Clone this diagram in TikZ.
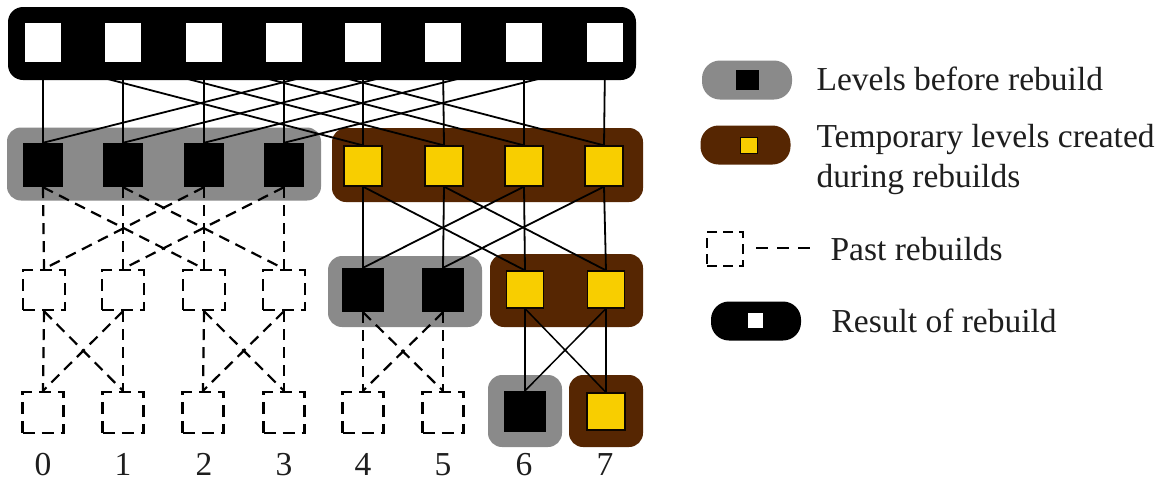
\documentclass[tikz,border=0pt]{standalone}
\usepackage{fontspec}
\setmainfont{Liberation Serif}
\definecolor{grpgray}{RGB}{138,138,138}
\definecolor{grpbrown}{RGB}{86,38,2}
\definecolor{lvlyellow}{RGB}{248,206,0}
\definecolor{txt}{RGB}{30,30,30}
\pgfdeclarelayer{groups}
\pgfdeclarelayer{links}
\pgfsetlayers{groups,links,main}
\tikzset{
  grp/.style={rounded corners=14pt, draw=none, inner sep=0pt},
  pill/.style={rounded corners=18pt, draw=none, inner sep=0pt, minimum width=90pt, minimum height=39pt},
  resbox/.style={fill=white, inner sep=0pt, minimum width=36pt, minimum height=39pt},
  oldlvl/.style={fill=black, inner sep=0pt, minimum width=41pt, minimum height=44pt},
  tmplvl/.style={fill=lvlyellow, draw=black!85!grpbrown, line width=1.2pt, inner sep=0pt, minimum width=38pt, minimum height=40pt},
  past/.style={draw=black, line width=2.4pt, dash pattern=on 12pt off 7pt, inner sep=0pt, minimum width=41pt, minimum height=40pt},
  link/.style={line width=1.8pt},
  pastlink/.style={line width=2.2pt, dash pattern=on 11pt off 7pt},
  label/.style={anchor=base, text=txt},
  keytext/.style={anchor=base west, text=txt},
}
\begin{document}
\begin{tikzpicture}[x=1pt, y=-1pt, font=\fontsize{33.5}{40}\selectfont]
\useasboundingbox (0,0) rectangle (1162,485);

% ---- level squares ----
\foreach \i/\x in {0/43,1/123,2/204,3/284,4/363,5/443,6/524,7/605} {
  \node[resbox] (t\i) at (\x,42.5) {};
}
% first level: four old ones, four temporary ones
\foreach \i/\x in {0/43,1/123,2/204,3/284} {
  \node[oldlvl, minimum width=40pt] (a\i) at (\x,165) {};
}
\foreach \i/\x in {4/363,5/444,6/524,7/604} {
  \node[tmplvl] (a\i) at (\x,166) {};
}
% second level
\foreach \i/\x in {0/44,1/123,2/204,3/284} {
  \node[past, minimum width=42pt] (b\i) at (\x,290) {};
}
\foreach \i/\x in {4/363,5/443} {
  \node[oldlvl, minimum width=42pt] (b\i) at (\x,290) {};
}
\foreach \i/\x in {6/525,7/606} {
  \node[tmplvl, minimum width=37pt, minimum height=37pt] (b\i) at (\x,289.5) {};
}
% third level
\foreach \i/\x in {0/43,1/123,2/203,3/284,4/363,5/443} {
  \node[past, minimum height=41pt] (c\i) at (\x,412.5) {};
}
\node[oldlvl, minimum width=42pt, minimum height=41pt] (c6) at (525,411.5) {};
\node[tmplvl, minimum height=37pt] (c7) at (606,411.5) {};

% ---- column numbers ----
\foreach \i/\x in {0/43,1/123,2/204,3/284,4/363,5/443,6/524,7/605} {
  \node[label] (n\i) at (\x,475) {\i};
}

% ---- group backgrounds ----
\begin{pgfonlayer}{groups}
  \fill[white] (0,0) rectangle (1162,485);
  \node[grp, fill=black, rounded corners=15pt, minimum width=628pt, minimum height=73pt] (gres) at (322,43.5) {};
  \node[grp, fill=grpgray, minimum width=314pt, minimum height=73pt] (g1old) at (164,164) {};
  \node[grp, fill=grpbrown, minimum width=311pt, minimum height=74pt] (g1tmp) at (487.5,165) {};
  \node[grp, fill=grpgray, minimum width=154pt, minimum height=71pt] (g2old) at (405,291.5) {};
  \node[grp, fill=grpbrown, minimum width=153pt, minimum height=73pt] (g2tmp) at (566.5,290.5) {};
  \node[grp, fill=grpgray, minimum width=74pt, minimum height=72pt] (g3old) at (525,411) {};
  \node[grp, fill=grpbrown, minimum width=74pt, minimum height=72pt] (g3tmp) at (606,411) {};
\end{pgfonlayer}

% ---- butterfly connections ----
\begin{pgfonlayer}{links}
  \foreach \i/\j in {0/4,1/5,2/6,3/7,4/0,5/1,6/2,7/3} {
    \draw[link] (t\i.south) -- (a\i.north);
    \draw[link] (t\i.south) -- (a\j.north);
  }
  \foreach \i/\j in {0/2,1/3,2/0,3/1} {
    \draw[pastlink] (a\i.south) -- (b\i.north);
    \draw[pastlink] (a\i.south) -- (b\j.north);
  }
  \foreach \i/\j in {4/6,5/7,6/4,7/5} {
    \draw[link] (a\i.south) -- (b\i.north);
    \draw[link] (a\i.south) -- (b\j.north);
  }
  \foreach \i/\j in {0/1,1/0,2/3,3/2,4/5,5/4} {
    \draw[pastlink] (b\i.south) -- (c\i.north);
    \draw[pastlink] (b\i.south) -- (c\j.north);
  }
  \foreach \i/\j in {6/7,7/6} {
    \draw[link, line width=1.5pt] (b\i.south) -- (c\i.north);
    \draw[link, line width=1.5pt] (b\i.south) -- (c\j.north);
  }
\end{pgfonlayer}

% ---- legend ----
\node[pill, fill=grpgray] (kold) at (747,80) {};
\node[fill=black, inner sep=0pt, minimum width=23pt, minimum height=20pt] (koldsq) at (747,80) {};
\node[keytext] (koldtxt) at (813,90) {Levels before rebuild};

\node[pill, fill=grpbrown] (ktmp) at (745.5,145) {};
\node[fill=lvlyellow, draw=black!85!grpbrown, line width=1pt, inner sep=0pt, minimum width=17pt, minimum height=16pt] (ktmpsq) at (748.5,145) {};
\node[keytext] (ktmptxt) at (813,147) {Temporary levels created};
\node[keytext] (ktmptxt2) at (813,187) {during rebuilds};

\node[draw=black, line width=1.8pt, dash pattern=on 10pt off 6pt, inner sep=0pt, minimum width=36pt, minimum height=34pt] (kpast) at (725,249) {};
\coordinate (kpaststart) at (756,248);
\coordinate (kpastend) at (810,248);
\draw[line width=2.6pt, dash pattern=on 12pt off 9pt] (kpaststart) -- (kpastend);
\node[keytext] (kpasttxt) at (827,260) {Past rebuilds};

\node[pill, fill=black] (kres) at (756,321) {};
\node[fill=white, inner sep=0pt, minimum width=15pt, minimum height=15pt] (kressq) at (755.5,320.5) {};
\node[keytext] (krestxt) at (828,332) {Result of rebuild};
\end{tikzpicture}
\end{document}
